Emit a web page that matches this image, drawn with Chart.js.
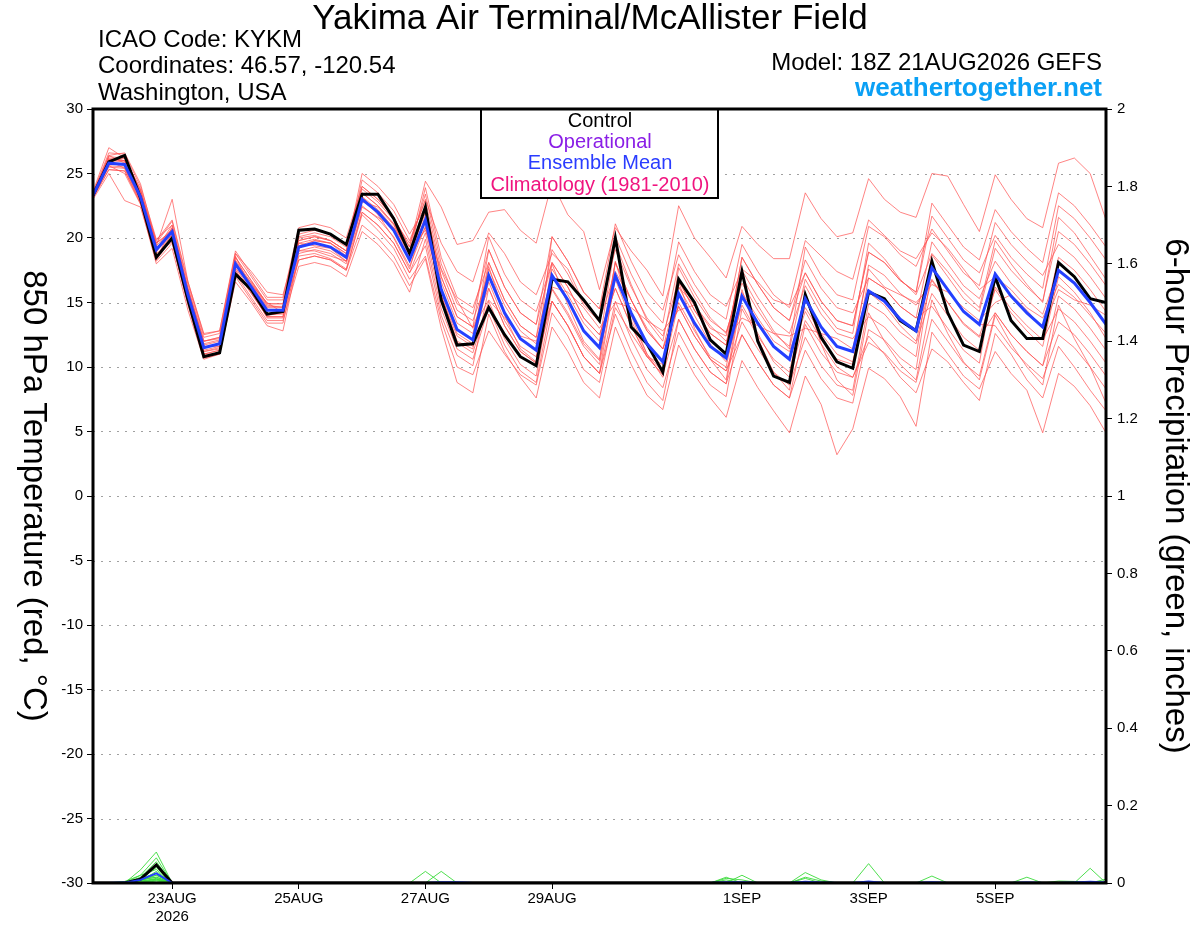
<!DOCTYPE html>
<html>
<head>
<meta charset="utf-8">
<title>KYKM GEFS 850 hPa temperature</title>
<script src="https://cdn.jsdelivr.net/npm/chart.js@4.4.1/dist/chart.umd.min.js"></script>
<style>
  body { margin: 0; background: #fff; }
  #wrap { width: 1200px; height: 927px; position: relative; }
</style>
</head>
<body>
<div id="wrap"><canvas id="gefs"></canvas></div>
<script>
// GEFS run 18Z 21AUG2026, one value every 6 h (65 steps, 0..384 h)
const stepHours = 6;
const tickHours = [30, 78, 126, 174, 246, 294, 342];
const tickLabels = [['23AUG', '2026'], '25AUG', '27AUG', '29AUG', '1SEP', '3SEP', '5SEP'];

// 850 hPa temperature (C)
const control = [23.3, 25.9,26.4,23.1,18.5, 20.0,15.2,10.8,11.1, 17.2,16.0,14.1,14.3, 20.6,20.7,20.3,19.5,
  23.4,23.4,21.5,18.8, 22.4,15.2,11.7,11.8, 14.6,12.5,10.8,10.1, 16.8,16.6,15.2,13.6,
  20.0,13.1,11.8,9.6, 16.8,15.0,12.1,11.0, 17.4,12.0,9.3,8.8, 15.6,12.3,10.4,9.9,
  15.8,15.3,13.6,12.8, 18.2,14.2,11.7,11.2, 17.0,13.6,12.2,12.2, 18.1,17.0,15.3,15.0];
const ensMean = [23.3, 25.8,25.7,23.2,19.1, 20.5,15.6,11.5,11.8, 18.0,16.2,14.4,14.4, 19.3,19.6,19.3,18.5,
  23.0,22.0,20.6,18.3, 21.4,16.0,12.9,12.1, 17.1,14.2,12.2,11.3, 17.1,15.2,12.8,11.5,
  17.1,14.2,11.8,10.4, 15.7,13.4,11.6,10.7, 15.5,13.4,11.6,10.6, 15.3,13.1,11.6,11.2,
  15.9,15.1,13.7,12.8, 17.7,16.0,14.3,13.3, 17.2,15.5,14.2,13.1, 17.5,16.5,15.0,13.3];

const mem01 = [23.5, 26.6,26.5,24.0,19.9, 21.0,16.1,12.0,12.3, 18.8,17.0,15.2,15.2, 20.3,20.6,20.3,19.5,
  24.0,23.0,21.6,19.3, 24.4,22.4,19.5,19.8, 22.0,22.2,20.6,19.6, 24.3,21.8,20.5,16.0,
  20.8,19.0,17.5,15.5, 22.5,20.0,18.5,16.9, 20.9,19.5,18.4,18.4, 23.5,21.5,20.1,20.4,
  24.6,23.0,22.0,21.6, 25.0,24.8,22.6,20.5, 24.9,23.0,21.5,20.8, 25.8,26.2,25.0,21.4];
const mem02 = [23.1, 25.3,25.2,22.7,18.6, 20.0,15.1,11.0,11.3, 17.5,15.7,13.9,13.9, 18.3,18.6,18.3,17.5,
  21.0,20.0,18.6,16.3, 18.4,13.0,8.8,8.0, 14.1,11.2,9.2,7.6, 13.1,11.2,8.8,7.6,
  13.1,10.2,7.8,6.7, 11.7,9.4,7.6,6.1, 10.5,8.4,6.6,4.9, 9.3,7.1,3.2,5.2,
  9.9,9.1,7.7,5.4, 12.7,11.0,9.3,8.3, 11.2,9.5,8.2,4.9, 9.5,8.5,7.0,4.9];
const mem03 = [23.4, 26.1,26.0,23.5,19.4, 23.0,16.6,12.5,12.8, 19.0,17.2,15.4,15.4, 20.8,21.1,20.8,20.0,
  24.0,23.0,21.6,19.3, 23.4,18.0,14.9,14.1, 19.1,16.2,14.2,13.3, 20.1,18.2,15.8,14.5,
  19.1,16.2,13.8,12.4, 16.7,14.4,12.6,11.7, 18.5,16.4,14.6,13.6, 17.3,15.1,13.6,13.2,
  18.9,18.1,16.7,15.8, 21.7,20.0,18.3,17.3, 20.2,18.5,17.2,16.1, 22.5,21.5,20.0,18.3];
const mem04 = [23.2, 25.5,25.4,22.9,18.8, 19.7,14.8,10.7,11.0, 17.0,15.2,13.4,13.4, 18.8,19.1,18.8,18.0,
  22.0,21.0,19.6,17.3, 19.4,14.0,10.9,10.1, 16.1,13.2,11.2,10.3, 15.1,13.2,10.8,9.5,
  14.1,11.2,8.8,7.4, 13.7,11.4,9.6,8.7, 12.5,10.4,8.6,7.6, 13.3,11.1,9.6,9.2,
  11.9,11.1,9.7,8.8, 13.7,12.0,10.3,9.3, 14.2,12.5,11.2,10.1, 13.5,12.5,11.0,9.3];
const mem05 = [23.6, 27.0,26.2,23.7,19.6, 20.5,15.6,11.5,11.8, 18.5,16.7,14.9,14.9, 19.8,20.1,19.8,19.0,
  23.0,22.0,20.6,18.3, 22.4,17.0,13.9,13.1, 20.1,17.2,15.2,14.3, 18.1,16.2,13.8,12.5,
  16.1,13.2,10.8,9.4, 17.7,15.4,13.6,12.7, 16.5,14.4,12.6,11.6, 19.3,17.1,15.6,15.2,
  20.9,20.1,18.7,17.8, 20.7,19.0,17.3,16.3, 21.2,19.5,18.2,17.1, 19.5,18.5,17.0,15.3];
const mem06 = [23.0, 25.0,22.9,22.4,18.3, 20.0,15.1,11.0,11.3, 18.0,16.2,14.4,14.4, 18.3,18.6,18.3,17.5,
  22.0,21.0,19.6,17.3, 20.4,15.0,11.9,11.1, 15.1,12.2,10.2,9.3, 16.1,14.2,11.8,10.5,
  18.1,15.2,12.8,11.4, 14.7,12.4,10.6,9.7, 13.5,11.4,9.6,8.6, 12.3,10.1,8.6,8.2,
  14.9,14.1,12.7,11.8, 15.7,14.0,12.3,11.3, 16.2,14.5,13.2,12.1, 14.5,13.5,12.0,10.3];
const mem07 = [23.3, 25.8,25.7,23.2,19.1, 21.0,16.1,12.0,12.3, 17.5,15.7,13.9,13.9, 19.3,19.6,19.3,18.5,
  23.5,22.5,21.1,18.8, 21.4,16.0,12.9,12.1, 18.1,15.2,13.2,12.3, 19.1,17.2,14.8,13.5,
  20.1,17.2,14.8,13.4, 19.7,17.4,15.6,14.7, 17.5,15.4,13.6,12.6, 16.3,14.1,12.6,12.2,
  13.9,13.1,11.7,10.8, 18.7,17.0,15.3,14.3, 19.2,17.5,16.2,15.1, 20.5,19.5,18.0,16.3];
const mem08 = [23.4, 26.0,25.9,23.4,19.3, 20.2,15.3,11.2,11.5, 18.3,16.5,14.7,14.7, 19.6,19.9,19.6,18.8,
  24.5,23.5,22.1,19.8, 22.9,17.5,14.4,13.6, 17.1,14.2,12.2,11.3, 15.1,13.2,10.8,9.5,
  15.1,12.2,9.8,8.4, 12.7,10.4,8.6,7.7, 14.5,12.4,10.6,9.6, 15.3,13.1,11.6,11.2,
  17.9,17.1,15.7,14.8, 16.7,15.0,13.3,12.3, 14.2,12.5,11.2,10.1, 15.5,14.5,13.0,11.3];
const mem09 = [23.2, 25.6,25.5,23.0,18.9, 20.8,15.9,11.8,12.1, 17.2,15.4,13.6,13.6, 17.8,18.1,17.8,17.0,
  20.5,19.5,18.1,15.8, 19.9,14.5,11.4,10.6, 14.6,11.7,9.7,8.8, 15.1,13.2,10.8,9.5,
  17.1,14.2,11.8,10.4, 16.7,14.4,12.6,11.7, 18.5,16.4,14.6,13.6, 18.3,16.1,14.6,14.2,
  16.9,16.1,14.7,13.8, 19.7,18.0,16.3,15.3, 18.2,16.5,15.2,14.1, 17.5,16.5,15.0,13.3];
const mem10 = [23.5, 26.3,26.2,23.7,19.6, 21.3,16.4,12.3,12.6, 18.5,16.7,14.9,14.9, 20.1,20.4,20.1,19.3,
  23.5,22.5,21.1,18.8, 23.9,18.5,15.4,14.6, 18.1,15.2,13.2,12.3, 17.1,15.2,12.8,11.5,
  18.1,15.2,12.8,11.4, 14.7,12.4,10.6,9.7, 12.5,10.4,8.6,7.6, 11.3,9.1,7.6,7.2,
  12.9,12.1,10.7,9.8, 17.7,16.0,14.3,13.3, 13.2,11.5,10.2,9.1, 12.5,11.5,10.0,8.3];
const mem11 = [23.1, 25.3,25.2,22.7,18.6, 20.3,15.4,11.3,11.6, 18.2,16.4,14.6,14.6, 19.0,19.3,19.0,18.2,
  22.5,21.5,20.1,17.8, 20.9,15.5,12.4,11.6, 19.1,16.2,14.2,13.3, 18.1,16.2,13.8,12.5,
  16.1,13.2,10.8,9.4, 13.7,11.4,9.6,8.7, 15.5,13.4,11.6,10.6, 14.3,12.1,10.6,10.2,
  16.9,16.1,14.7,13.8, 14.7,13.0,11.3,10.3, 17.2,15.5,14.2,13.1, 18.5,17.5,16.0,14.3];
const mem12 = [23.3, 26.1,26.0,23.5,19.4, 20.7,15.8,11.7,12.0, 17.7,15.9,14.1,14.1, 19.8,20.1,19.8,19.0,
  25.0,24.0,22.6,20.3, 22.4,17.0,13.9,13.1, 16.1,13.2,11.2,10.3, 20.1,18.2,15.8,14.5,
  21.1,18.2,15.8,14.4, 18.7,16.4,14.6,13.7, 19.5,17.4,15.6,14.6, 17.3,15.1,13.6,13.2,
  18.9,18.1,16.7,15.8, 22.7,21.0,19.3,18.3, 22.2,20.5,19.2,18.1, 23.5,22.5,21.0,19.3];
const mem13 = [23.4, 26.0,25.4,22.8,18.2, 19.6,15.0,11.2,11.4, 17.6,16.4,15.0,14.2, 19.0,19.0,18.6,18.2,
  22.4,21.6,20.8,19.0, 20.6,17.6,15.2,13.0, 15.2,13.8,12.4,12.0, 16.2,15.8,14.6,13.0,
  15.0,14.6,13.6,12.8, 14.4,14.8,13.2,12.0, 13.8,13.2,12.6,12.4, 13.0,12.6,12.2,11.4,
  17.6,16.2,15.6,15.0, 16.4,15.8,14.6,13.6, 15.0,15.6,14.4,13.0, 16.0,15.2,14.8,14.0];
const mem14 = [23.3, 25.6,25.0,22.6,18.0, 19.2,14.4,10.6,11.0, 16.6,15.0,13.2,12.8, 18.6,18.8,18.4,17.6,
  21.8,20.6,19.2,16.8, 18.6,13.6,10.0,9.4, 12.8,11.0,9.4,8.6, 14.2,12.4,9.8,8.8,
  14.6,12.6,10.8,10.2, 16.2,14.8,13.0,12.4, 17.6,16.6,15.2,14.8, 19.8,18.6,17.4,16.8,
  21.4,20.2,19.0,18.4, 20.4,19.2,17.6,16.0, 17.0,16.0,14.6,13.8, 16.4,15.4,14.0,12.6];
const mem15 = [23.2, 26.4,25.8,23.0,18.4, 20.8,15.2,11.0,11.0, 18.6,16.0,13.8,13.8, 19.6,19.4,19.2,18.2,
  23.2,21.8,20.0,17.6, 21.8,15.6,12.0,11.4, 17.8,14.0,11.4,10.4, 18.0,14.8,12.0,10.6,
  18.2,14.0,11.0,9.2, 16.6,13.0,10.6,9.0, 16.0,12.2,9.6,8.2, 15.6,11.8,9.0,7.8,
  14.2,12.0,10.2,9.0, 15.2,12.6,10.4,9.0, 14.0,11.8,10.0,8.6, 14.8,12.2,10.0,7.2];
const mem16 = [23.4, 26.2,26.0,23.6,19.8, 21.4,16.6,12.6,12.8, 18.8,17.4,15.8,15.6, 20.0,20.2,19.8,19.0,
  23.8,22.8,21.4,19.6, 23.0,19.6,17.4,16.6, 20.4,18.8,16.6,15.6, 18.8,17.6,15.0,13.6,
  17.4,15.2,13.0,11.4, 16.2,14.0,11.8,10.4, 14.8,12.6,10.4,9.2, 13.6,11.8,10.0,9.2,
  12.4,11.0,9.2,8.0, 11.4,10.4,8.8,7.4, 12.6,11.0,9.0,7.6, 11.6,10.0,8.2,6.6];
const mem17 = [23.3, 25.9,26.2,23.8,19.0, 20.2,15.8,11.6,11.6, 18.0,16.0,14.0,14.2, 19.2,19.8,19.6,18.6,
  22.8,22.4,21.0,18.6, 22.0,16.6,13.4,12.6, 17.6,14.8,12.8,11.8, 16.0,14.0,11.6,10.2,
  16.8,13.6,11.0,9.6, 15.0,12.8,10.8,10.0, 15.8,13.8,12.0,11.2, 14.6,12.6,11.0,10.4,
  15.8,14.8,13.2,12.0, 16.8,15.0,13.4,12.4, 16.0,14.2,12.8,11.6, 17.0,15.8,14.2,12.2];
const mem18 = [23.5, 26.4,26.6,24.2,19.6, 20.6,16.0,12.0,12.2, 17.8,16.6,14.8,14.6, 19.4,19.8,19.6,18.8,
  23.2,22.2,20.8,18.4, 20.8,15.8,12.6,11.8, 16.6,13.6,11.6,10.8, 17.6,15.6,13.4,12.0,
  19.6,16.4,13.6,12.0, 18.0,15.8,13.8,12.6, 17.0,14.8,12.8,11.4, 16.8,14.6,13.0,12.6,
  19.6,18.4,16.8,15.6, 18.8,17.4,15.8,14.6, 19.8,18.0,16.4,15.0, 21.6,20.4,18.6,16.8];
const members = [mem01, mem02, mem03, mem04, mem05, mem06, mem07, mem08, mem09,
  mem10, mem11, mem12, mem13, mem14, mem15, mem16, mem17, mem18];

// 6-hour precipitation (inches)
const controlPcp = [0, 0,0,.01,.047, 0,0,0,0, 0,0,0,0, 0,0,0,0, 0,0,0,0, 0,0,0,0, 0,0,0,0, 0,0,0,0,
  0,0,0,0, 0,0,0,0, 0,0,0,0, 0,0,0,0, 0,0,0,0, 0,0,0,0, 0,0,0,0, 0,0,0,0];
const meanPcp = [0, 0,.001,.008,.025, 0,0,0,0, 0,0,0,0, 0,0,0,0, 0,0,0,0, 0,.002,.002,0, 0,0,0,0, 0,0,0,0,
  0,0,0,0, 0,0,0,.002, .002,0,0,0, .003,.001,0,0, .004,0,0,0, .002,0,0,0, 0,0,.001,0, 0,.001,.003,.001];
const pcp01 = [0, 0,0,.034,.08, 0,0,0,0, 0,0,0,0, 0,0,0,0, 0,0,0,0, 0,0,0,0, 0,0,0,0, 0,0,0,0,
  0,0,0,0, 0,0,0,.012, .008,0,0,0, 0,0,0,0, 0,0,0,0, 0,0,0,0, 0,0,0,0, 0,0,0,.01];
const pcp02 = [0, 0,.004,.02,.065, 0,0,0,0, 0,0,0,0, 0,0,0,0, 0,0,0,0, 0,0,0,0, 0,0,0,0, 0,0,0,0,
  0,0,0,0, 0,0,0,.015, 0,0,0,0, 0,0,0,0, 0,0,0,0, 0,0,0,0, 0,0,0,0, 0,0,0,0];
const pcp03 = [0, 0,0,.015,.055, 0,0,0,0, 0,0,0,0, 0,0,0,0, 0,0,0,0, .03,0,0,0, 0,0,0,0, 0,0,0,0,
  0,0,0,0, 0,0,0,0, 0,0,0,0, 0,0,0,0, 0,0,0,0, 0,0,0,0, 0,0,0,0, 0,0,0,0];
const pcp04 = [0, 0,0,.01,.045, 0,0,0,0, 0,0,0,0, 0,0,0,0, 0,0,0,0, 0,0,0,0, 0,0,0,0, 0,0,0,0,
  0,0,0,0, 0,0,0,0, 0,0,0,0, .027,.008,0,0, 0,0,0,0, 0,0,0,0, 0,0,0,0, 0,0,0,0];
const pcp05 = [0, 0,0,.01,.04, 0,0,0,0, 0,0,0,0, 0,0,0,0, 0,0,0,0, 0,0,0,0, 0,0,0,0, 0,0,0,0,
  0,0,0,0, 0,0,0,0, .02,0,0,0, 0,0,0,0, 0,0,0,0, 0,0,0,0, 0,0,0,0, 0,0,0,0];
const pcp06 = [0, 0,0,.005,.03, 0,0,0,0, 0,0,0,0, 0,0,0,0, 0,0,0,0, 0,0,0,0, 0,0,0,0, 0,0,0,0,
  0,0,0,0, 0,0,0,0, 0,0,0,0, 0,0,0,0, .05,0,0,0, 0,0,0,0, 0,0,0,0, 0,0,0,0];
const pcp07 = [0, 0,0,.005,.02, 0,0,0,0, 0,0,0,0, 0,0,0,0, 0,0,0,0, 0,.03,0,0, 0,0,0,0, 0,0,0,0,
  0,0,0,0, 0,0,0,0, 0,0,0,0, 0,0,0,0, 0,0,0,0, 0,0,0,0, 0,0,0,0, 0,0,0,0];
const pcp08 = [0, 0,0,.008,.015, 0,0,0,0, 0,0,0,0, 0,0,0,0, 0,0,0,0, 0,0,0,0, 0,0,0,0, 0,0,0,0,
  0,0,0,0, 0,0,0,0, 0,0,0,0, .012,0,0,0, 0,0,0,0, .018,0,0,0, 0,0,0,0, 0,0,0,0];
const pcp09 = [0, 0,0,.004,.012, 0,0,0,0, 0,0,0,0, 0,0,0,0, 0,0,0,0, 0,0,0,0, 0,0,0,0, 0,0,0,0,
  0,0,0,0, 0,0,0,0, 0,0,0,0, .015,.005,0,0, 0,0,0,0, 0,0,0,0, 0,0,0,0, 0,0,0,0];
const pcp10 = [0, 0,0,0,.008, 0,0,0,0, 0,0,0,0, 0,0,0,0, 0,0,0,0, 0,0,0,0, 0,0,0,0, 0,0,0,0,
  0,0,0,0, 0,0,0,0, 0,0,0,0, 0,0,0,0, 0,0,0,0, 0,0,0,0, 0,0,.015,0, 0,0,0,0];
const pcp11 = [0, 0,0,0,.005, 0,0,0,0, 0,0,0,0, 0,0,0,0, 0,0,0,0, 0,0,0,0, 0,0,0,0, 0,0,0,0,
  0,0,0,0, 0,0,0,.008, 0,0,0,0, 0,0,0,0, 0,0,0,0, 0,0,0,0, 0,0,0,0, .005,.004,0,0];
const pcp12 = [0, 0,0,.002,.01, 0,0,0,0, 0,0,0,0, 0,0,0,0, 0,0,0,0, 0,0,0,0, 0,0,0,0, 0,0,0,0,
  0,0,0,0, 0,0,0,0, 0,0,0,0, 0,0,0,0, 0,0,0,0, 0,0,0,0, 0,0,0,0, 0,0,.038,0];
const pcp13 = [0, 0,0,.005,.01, 0,0,0,0, 0,0,0,0, 0,0,0,0, 0,0,0,0, 0,0,0,0, 0,0,0,0, 0,0,0,0,
  0,0,0,0, 0,0,0,0, 0,0,0,0, 0,0,0,0, 0,0,0,0, 0,0,0,0, 0,0,0,0, 0,0,0,0];
const pcp14 = [0, 0,0,.01,.02, 0,0,0,0, 0,0,0,0, 0,0,0,0, 0,0,0,0, 0,0,0,0, 0,0,0,0, 0,0,0,0,
  0,0,0,0, 0,0,0,0, 0,0,0,0, 0,0,0,0, 0,0,0,0, 0,0,0,0, 0,0,0,0, 0,0,0,0];
const pcp15 = [0, 0,0,.012,.025, 0,0,0,0, 0,0,0,0, 0,0,0,0, 0,0,0,0, 0,0,0,0, 0,0,0,0, 0,0,0,0,
  0,0,0,0, 0,0,0,0, 0,0,0,0, 0,0,0,0, 0,0,0,0, 0,0,0,0, 0,0,0,0, 0,0,0,0];
const pcp16 = [0, 0,0,.002,.006, 0,0,0,0, 0,0,0,0, 0,0,0,0, 0,0,0,0, 0,0,0,0, 0,0,0,0, 0,0,0,0,
  0,0,0,0, 0,0,0,0, 0,0,0,0, 0,0,0,0, 0,0,0,0, 0,0,0,0, 0,0,0,0, 0,0,0,0];
const pcp17 = [0, 0,0,.008,.015, 0,0,0,0, 0,0,0,0, 0,0,0,0, 0,0,0,0, 0,0,0,0, 0,0,0,0, 0,0,0,0,
  0,0,0,0, 0,0,0,0, 0,0,0,0, 0,0,0,0, 0,0,0,0, 0,0,0,0, 0,0,0,0, 0,0,0,0];
const pcp18 = [0, 0,0,.02,.035, 0,0,0,0, 0,0,0,0, 0,0,0,0, 0,0,0,0, 0,0,0,0, 0,0,0,0, 0,0,0,0,
  0,0,0,0, 0,0,0,0, 0,0,0,0, 0,0,0,0, 0,0,0,0, 0,0,0,0, 0,0,0,0, 0,0,0,0];
const memberPcp = [pcp01, pcp02, pcp03, pcp04, pcp05, pcp06, pcp07, pcp08, pcp09,
  pcp10, pcp11, pcp12, pcp13, pcp14, pcp15, pcp16, pcp17, pcp18];

const legendItems = ['Control', 'Operational', 'Ensemble Mean', 'Climatology (1981-2010)'];
const legendColors = ['#000000', '#8a1ee6', '#2a3cff', '#f0147f'];

const FONT = '"Liberation Sans", Arial, Helvetica, sans-serif';

function toPoints(arr) {
  return arr.map((v, i) => ({ x: i * stepHours, y: v }));
}

function lineSet(arr, color, width, axis) {
  return {
    data: toPoints(arr),
    borderColor: color,
    borderWidth: width,
    pointRadius: 0,
    tension: 0,
    fill: false,
    yAxisID: axis
  };
}

// first dataset ends up on top
let datasets = [];
datasets.push(lineSet(ensMean, '#2440ff', 3, 'y'));
datasets.push(lineSet(control, '#000000', 3, 'y'));
datasets.push(lineSet(meanPcp, '#2440ff', 2, 'y2'));
datasets.push(lineSet(controlPcp, '#000000', 3, 'y2'));
memberPcp.forEach(p => datasets.push(lineSet(p, 'rgba(60,220,60,0.9)', 1, 'y2')));
members.forEach(m => datasets.push(lineSet(m, 'rgba(255,80,80,0.7)', 1, 'y')));

const decor = {
  id: 'decor',
  beforeDatasetsDraw(chart) {
    const ctx = chart.ctx, a = chart.chartArea, y = chart.scales.y;
    ctx.save();
    ctx.strokeStyle = '#a0a0a0';
    ctx.lineWidth = 1;
    ctx.setLineDash([2, 6]);
    for (let v = -25; v <= 25; v += 5) {
      const py = Math.round(y.getPixelForValue(v)) + 0.5;
      ctx.beginPath();
      ctx.moveTo(a.left, py);
      ctx.lineTo(a.right, py);
      ctx.stroke();
    }
    ctx.restore();
  },
  afterDatasetsDraw(chart) {
    const ctx = chart.ctx, a = chart.chartArea;
    ctx.save();
    // legend box
    ctx.fillStyle = '#fff';
    ctx.fillRect(481, a.top, 237, 89);
    ctx.strokeStyle = '#000';
    ctx.lineWidth = 2;
    ctx.strokeRect(481, a.top, 237, 89);
    ctx.font = '20px ' + FONT;
    ctx.textAlign = 'center';
    ctx.textBaseline = 'middle';
    legendItems.forEach((t, i) => {
      ctx.fillStyle = legendColors[i];
      ctx.fillText(t, 600, 121 + i * 21.4);
    });
    // plot frame
    ctx.lineWidth = 3;
    ctx.strokeRect(a.left, a.top, a.right - a.left, a.bottom - a.top);
    ctx.restore();
  },
  afterDraw(chart) {
    const ctx = chart.ctx, a = chart.chartArea;
    const midY = (a.top + a.bottom) / 2;
    ctx.save();
    ctx.fillStyle = '#000';
    ctx.textBaseline = 'middle';
    ctx.textAlign = 'center';
    ctx.font = '35px ' + FONT;
    ctx.fillText('Yakima Air Terminal/McAllister Field', 590, 19);

    ctx.textAlign = 'left';
    ctx.font = '24px ' + FONT;
    ctx.fillText('ICAO Code: KYKM', 98, 40);
    ctx.fillText('Coordinates: 46.57, -120.54', 98, 66);
    ctx.fillText('Washington, USA', 98, 93);

    ctx.textAlign = 'right';
    ctx.fillText('Model: 18Z 21AUG2026 GEFS', 1102, 63);
    ctx.font = 'bold 26px ' + FONT;
    ctx.fillStyle = '#0aa0f5';
    ctx.fillText('weathertogether.net', 1102, 89);

    ctx.fillStyle = '#000';
    ctx.textAlign = 'center';
    ctx.font = '33px ' + FONT;
    ctx.save();
    ctx.translate(33, midY);
    ctx.rotate(Math.PI / 2);
    ctx.fillText('850 hPa Temperature (red, \u00B0C)', 0, 0);
    ctx.restore();
    ctx.save();
    ctx.translate(1175, midY);
    ctx.rotate(Math.PI / 2);
    ctx.fillText('6-hour Precipitation (green, inches)', 0, 0);
    ctx.restore();
    ctx.restore();
  }
};

const tickFont = { family: FONT, size: 15 };

new Chart('gefs', {
  type: 'line',
  data: { datasets: datasets },
  options: {
    responsive: true,
    maintainAspectRatio: false,
    animation: false,
    events: [],
    layout: { padding: { top: 109, left: 0, right: 0, bottom: 0 } },
    plugins: { legend: { display: false }, tooltip: { enabled: false }, title: { display: false } },
    scales: {
      x: {
        type: 'linear',
        position: 'bottom',
        min: 0,
        max: 384,
        afterBuildTicks: s => { s.ticks = tickHours.map(v => ({ value: v })); },
        afterFit: s => { s.height = 44; },
        ticks: {
          autoSkip: false,
          maxRotation: 0,
          color: '#000',
          font: tickFont,
          padding: 1,
          callback: (v, i) => tickLabels[i]
        },
        grid: { drawOnChartArea: false, color: '#000', tickLength: 6 },
        border: { display: false }
      },
      y: {
        position: 'left',
        min: -30,
        max: 30,
        afterFit: s => { s.width = 93; },
        ticks: { stepSize: 5, color: '#000', font: tickFont, padding: 4 },
        grid: { drawOnChartArea: false, color: '#000', tickLength: 6 },
        border: { display: false }
      },
      y2: {
        position: 'right',
        min: 0,
        max: 2,
        afterFit: s => { s.width = 94; },
        ticks: {
          stepSize: 0.2,
          color: '#000',
          font: tickFont,
          padding: 5,
          callback: v => String(+v.toFixed(1))
        },
        grid: { drawOnChartArea: false, color: '#000', tickLength: 6 },
        border: { display: false }
      }
    }
  },
  plugins: [decor]
});
</script>
</body>
</html>
